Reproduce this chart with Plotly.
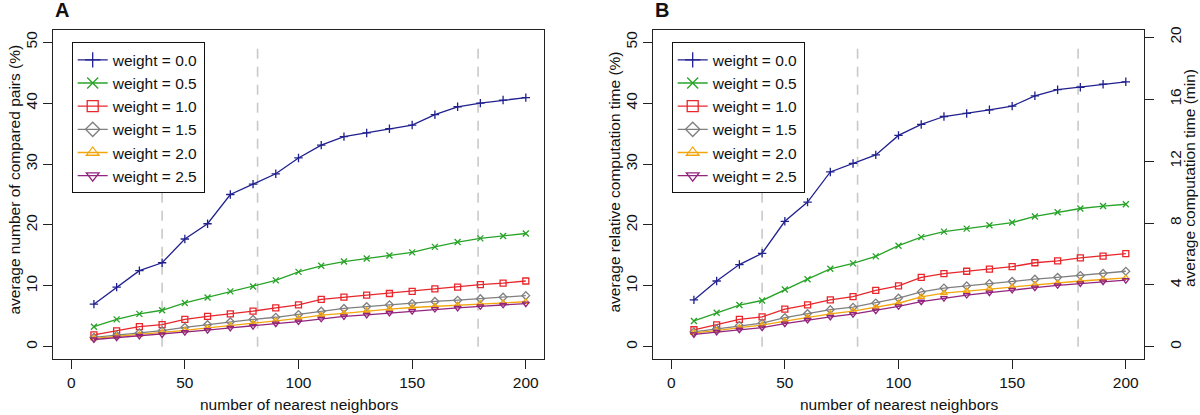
import plotly.graph_objects as go

# ---------------- data ----------------
neighbors = [10, 20, 30, 40, 50, 60, 70, 80, 90, 100,
             110, 120, 130, 140, 150, 160, 170, 180, 190, 200]
weights = ["0.0", "0.5", "1.0", "1.5", "2.0", "2.5"]

# Panel A: average number of compared pairs (%)
a_w00 = [7.0, 9.8, 12.5, 13.8, 17.7, 20.2, 25.0, 26.7, 28.4, 31.0, 33.1, 34.5, 35.1, 35.8, 36.4, 38.1, 39.4, 40.0, 40.5, 40.9]
a_w05 = [3.3, 4.5, 5.4, 6.0, 7.2, 8.1, 9.1, 9.9, 10.9, 12.3, 13.3, 14.0, 14.5, 15.0, 15.5, 16.4, 17.2, 17.8, 18.2, 18.6]
a_w10 = [1.95, 2.6, 3.3, 3.65, 4.5, 5.0, 5.4, 5.85, 6.4, 6.9, 7.8, 8.15, 8.5, 8.75, 9.1, 9.5, 9.8, 10.2, 10.45, 10.8]
a_w15 = [1.55, 1.9, 2.3, 2.65, 3.2, 3.65, 4.1, 4.5, 4.85, 5.3, 5.85, 6.3, 6.6, 6.9, 7.1, 7.45, 7.65, 7.9, 8.15, 8.4]
a_w20 = [1.4, 1.7, 2.0, 2.35, 2.7, 3.1, 3.45, 3.8, 4.25, 4.65, 5.2, 5.5, 5.9, 6.2, 6.45, 6.65, 6.85, 7.05, 7.2, 7.4]
a_w25 = [1.2, 1.5, 1.8, 2.05, 2.4, 2.75, 3.1, 3.4, 3.8, 4.15, 4.6, 5.0, 5.25, 5.55, 5.85, 6.2, 6.4, 6.65, 6.9, 7.1]

# Panel B: average relative computation time (%)
b_w00 = [7.7, 10.8, 13.5, 15.35, 20.6, 23.75, 28.7, 30.1, 31.5, 34.7, 36.5, 37.8, 38.3, 38.9, 39.5, 41.2, 42.2, 42.6, 43.1, 43.5]
b_w05 = [4.25, 5.6, 6.85, 7.6, 9.4, 11.1, 12.8, 13.7, 14.85, 16.6, 18.0, 18.9, 19.4, 19.95, 20.4, 21.4, 22.1, 22.7, 23.1, 23.4]
b_w10 = [2.8, 3.6, 4.5, 4.9, 6.2, 6.9, 7.7, 8.25, 9.25, 10.0, 11.4, 12.0, 12.4, 12.75, 13.15, 13.8, 14.1, 14.6, 14.9, 15.3]
b_w15 = [2.45, 2.95, 3.5, 3.9, 4.8, 5.45, 6.1, 6.5, 7.2, 8.0, 9.0, 9.65, 10.0, 10.4, 10.75, 11.1, 11.4, 11.7, 12.05, 12.4]
b_w20 = [2.3, 2.65, 3.15, 3.55, 4.2, 4.85, 5.4, 5.85, 6.45, 7.15, 8.2, 8.8, 9.15, 9.5, 9.8, 10.2, 10.45, 10.8, 11.05, 11.3]
b_w25 = [2.05, 2.45, 2.8, 3.15, 3.8, 4.4, 4.9, 5.35, 5.95, 6.65, 7.4, 8.0, 8.5, 8.9, 9.35, 9.7, 10.1, 10.4, 10.7, 10.95]

# vertical reference lines (number of nearest neighbors)
cutoffs = [40, 82, 179]
cutoff_span = [0, 49]

# minutes corresponding to 1 % on the right axis of panel B
minutes_per_percent = 20 / 50.8

x_ticks = [0, 50, 100, 150, 200]
y_ticks = [0, 10, 20, 30, 40, 50]
min_ticks = [0, 4, 8, 12, 16, 20]

# ---------------- style ----------------
colors = ["#20208f", "#27a327", "#e8262b", "#7f7f7f", "#f2a60c", "#92237f"]
symbols = ["cross-thin-open", "x-thin-open", "square-open", "diamond-open",
           "triangle-up-open", "triangle-down-open"]
FONT = "Liberation Sans, Arial, Helvetica, sans-serif"
FS = 15.5
TXT = "#111111"

series_a = [a_w00, a_w05, a_w10, a_w15, a_w20, a_w25]
series_b = [b_w00, b_w05, b_w10, b_w15, b_w20, b_w25]

fig = go.Figure()

panels = [("x", "y", series_a, "legend"), ("x2", "y2", series_b, "legend2")]
for xa, ya, series, leg in panels:
    for c in cutoffs:
        fig.add_trace(go.Scatter(
            x=[c, c], y=cutoff_span, mode="lines", xaxis=xa, yaxis=ya,
            line=dict(color="#c9c9c9", width=1.6, dash="10px,8px"),
            showlegend=False, hoverinfo="skip"))
    for i, vals in enumerate(series):
        fig.add_trace(go.Scatter(
            x=neighbors, y=vals, mode="lines+markers", xaxis=xa, yaxis=ya,
            line=dict(color=colors[i], width=1.3),
            marker=dict(symbol=symbols[i], size=6, color=colors[i],
                        line=dict(color=colors[i], width=1.3)),
            showlegend=False, name="weight = " + weights[i]))
    # legend entries (bigger symbols, as in the original legend)
    for i in range(len(weights)):
        fig.add_trace(go.Scatter(
            x=[None], y=[None], mode="lines+markers", xaxis=xa, yaxis=ya,
            line=dict(color=colors[i], width=1.3),
            marker=dict(symbol=symbols[i], size=11, color=colors[i],
                        line=dict(color=colors[i], width=1.3)),
            name="weight = " + weights[i], legend=leg, showlegend=True))

# empty trace so that the right-hand minutes axis is drawn
fig.add_trace(go.Scatter(x=[None], y=[None], xaxis="x2", yaxis="y3",
                         mode="lines", showlegend=False, hoverinfo="skip"))

axis_common = dict(showline=True, linecolor="#222222", linewidth=1, mirror=True,
                   ticks="outside", ticklen=9, tickwidth=1, tickcolor="#222222",
                   showgrid=False, zeroline=False,
                   tickfont=dict(family=FONT, size=FS, color=TXT))

dom_a = [0, 491 / 1091]
dom_b = [600 / 1091, 1]

legend_common = dict(xanchor="left", yanchor="top", y=1 - 12.3 / 329,
                     bgcolor="white", bordercolor=TXT, borderwidth=1,
                     font=dict(family=FONT, size=FS, color=TXT),
                     tracegroupgap=0, itemwidth=30)

fig.update_layout(
    width=1200, height=415,
    margin=dict(l=53, r=56, t=30, b=56),
    paper_bgcolor="white", plot_bgcolor="white",
    font=dict(family=FONT, size=FS, color=TXT),
    xaxis=dict(domain=dom_a, range=[-8, 208], tickvals=x_ticks, anchor="y",
               ticklabelstandoff=0, **axis_common),
    yaxis=dict(range=[-2, 52], tickvals=y_ticks, anchor="x", tickangle=-90,
               ticklabelstandoff=0, **axis_common),
    xaxis2=dict(domain=dom_b, range=[-8, 208], tickvals=x_ticks, anchor="y2",
                ticklabelstandoff=0, **axis_common),
    yaxis2=dict(range=[-2, 52], tickvals=y_ticks, anchor="x2", tickangle=-90,
                ticklabelstandoff=0, **axis_common),
    yaxis3=dict(range=[-2 * minutes_per_percent, 52 * minutes_per_percent],
                tickvals=min_ticks, overlaying="y2", side="right", anchor="x2",
                tickangle=-90, ticklabelstandoff=8,
                showline=False, ticks="outside", ticklen=9, tickwidth=1,
                tickcolor="#222222", showgrid=False, zeroline=False,
                tickfont=dict(family=FONT, size=FS, color=TXT)),
    legend=dict(x=18.7 / 1091, **legend_common),
    legend2=dict(x=618.7 / 1091, **legend_common),
    showlegend=True,
)

ann_font = dict(family=FONT, size=FS, color=TXT)
annotations = [
    dict(text="<b>A</b>", x=0, y=1 + 20 / 329, xref="paper", yref="paper",
         xanchor="left", yanchor="middle", showarrow=False,
         font=dict(family=FONT, size=20, color=TXT)),
    dict(text="<b>B</b>", x=dom_b[0], y=1 + 20 / 329, xref="paper", yref="paper",
         xanchor="left", yanchor="middle", showarrow=False,
         font=dict(family=FONT, size=20, color=TXT)),
    dict(text="number of nearest neighbors", x=(dom_a[0] + dom_a[1]) / 2,
         y=(359 - 404) / 329, xref="paper", yref="paper", xanchor="center",
         yanchor="middle", showarrow=False, font=ann_font),
    dict(text="number of nearest neighbors", x=(dom_b[0] + dom_b[1]) / 2,
         y=(359 - 404) / 329, xref="paper", yref="paper", xanchor="center",
         yanchor="middle", showarrow=False, font=ann_font),
    dict(text="average number of compared pairs (%)", x=(13.5 - 53) / 1091,
         y=1 - (180 - 30) / 329, xref="paper", yref="paper", xanchor="center",
         yanchor="middle", textangle=-90, showarrow=False, font=ann_font),
    dict(text="average relative computation time (%)", x=(613.5 - 53) / 1091,
         y=1 - (182 - 30) / 329, xref="paper", yref="paper", xanchor="center",
         yanchor="middle", textangle=-90, showarrow=False, font=ann_font),
    dict(text="average computation time (min)", x=(1190 - 53) / 1091,
         y=1 - (178 - 30) / 329, xref="paper", yref="paper", xanchor="center",
         yanchor="middle", textangle=-90, showarrow=False, font=ann_font),
]
fig.update_layout(annotations=annotations)

# remove the default page margin so the 1200x415 figure fills the window exactly
fig.write_html("out.html",
               config={"displayModeBar": False},
               post_script="document.body.style.margin='0px';"
                           "document.body.style.overflow='hidden';")
